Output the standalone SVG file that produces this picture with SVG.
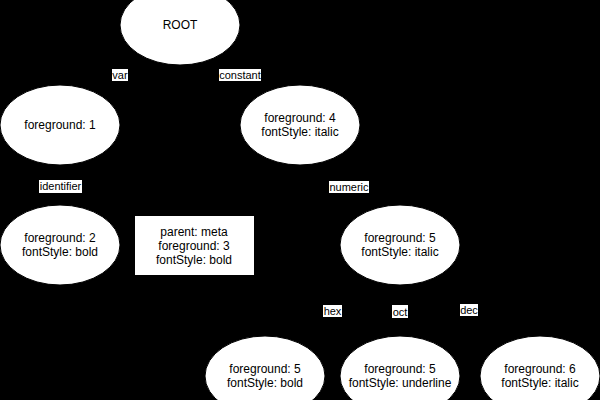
<svg xmlns="http://www.w3.org/2000/svg" width="600" height="400" viewBox="0 0 600 400">
<style>
.n{fill:#fff;stroke:#000;stroke-width:1}
.t{font-family:"Liberation Sans",Arial,sans-serif;font-size:12px;fill:#000;text-anchor:middle}
.e{stroke:#000;stroke-width:1;fill:none}
.lb{fill:#fff}
.lt{font-family:"Liberation Sans",Arial,sans-serif;font-size:11px;fill:#000;text-anchor:middle}
</style>
<rect x="0" y="0" width="600" height="400" fill="#000"/>
<g id="connectors">
<line class="e" x1="180" y1="25" x2="60" y2="125"/>
<line class="e" x1="180" y1="25" x2="300" y2="125"/>
<line class="e" x1="60" y1="125" x2="60" y2="245"/>
<line class="e" x1="300" y1="125" x2="400" y2="245"/>
<line class="e" x1="400" y1="245" x2="265" y2="375"/>
<line class="e" x1="400" y1="245" x2="400" y2="375"/>
<line class="e" x1="400" y1="245" x2="540" y2="375"/>
<rect class="lb" x="112" y="69" width="16" height="12"/><text class="lt" x="120" y="79">var</text>
<rect class="lb" x="219" y="69" width="42" height="12"/><text class="lt" x="240" y="79">constant</text>
<rect class="lb" x="39" y="180" width="43" height="13"/><text class="lt" x="60.5" y="190">identifier</text>
<rect class="lb" x="329" y="181" width="40" height="12"/><text class="lt" x="349" y="191">numeric</text>
<rect class="lb" x="323" y="305" width="19" height="12"/><text class="lt" x="332.5" y="315">hex</text>
<rect class="lb" x="392" y="305" width="16" height="13"/><text class="lt" x="400" y="315.5">oct</text>
<rect class="lb" x="460" y="304" width="18" height="12"/><text class="lt" x="469" y="314">dec</text>
</g>
<g id="root"><ellipse class="n" cx="180" cy="25" rx="60" ry="40"/><text class="t" x="180" y="29">ROOT</text></g>
<g id="fg1"><ellipse class="n" cx="60" cy="125" rx="60" ry="40"/><text class="t" x="60" y="129">foreground: 1</text></g>
<g id="fg4"><ellipse class="n" cx="300" cy="125" rx="60" ry="40"/><text class="t" x="300" y="122">foreground: 4</text><text class="t" x="300" y="136">fontStyle: italic</text></g>
<g id="fg2"><ellipse class="n" cx="60" cy="245" rx="60" ry="40"/><text class="t" x="60" y="242">foreground: 2</text><text class="t" x="60" y="256">fontStyle: bold</text></g>
<g id="meta"><rect class="n" x="134.5" y="215.5" width="120" height="60"/><text class="t" x="194" y="236">parent: meta</text><text class="t" x="194" y="250">foreground: 3</text><text class="t" x="194" y="264">fontStyle: bold</text></g>
<g id="fg5"><ellipse class="n" cx="400" cy="245" rx="60" ry="40"/><text class="t" x="400" y="242">foreground: 5</text><text class="t" x="400" y="256">fontStyle: italic</text></g>
<g id="hexnode"><ellipse class="n" cx="265" cy="376" rx="60" ry="40"/><text class="t" x="265" y="373">foreground: 5</text><text class="t" x="265" y="387">fontStyle: bold</text></g>
<g id="octnode"><ellipse class="n" cx="400" cy="376" rx="60" ry="40"/><text class="t" x="400" y="373">foreground: 5</text><text class="t" x="400" y="387">fontStyle: underline</text></g>
<g id="decnode"><ellipse class="n" cx="540" cy="376" rx="60" ry="40"/><text class="t" x="540" y="373">foreground: 6</text><text class="t" x="540" y="387">fontStyle: italic</text></g>
</svg>
